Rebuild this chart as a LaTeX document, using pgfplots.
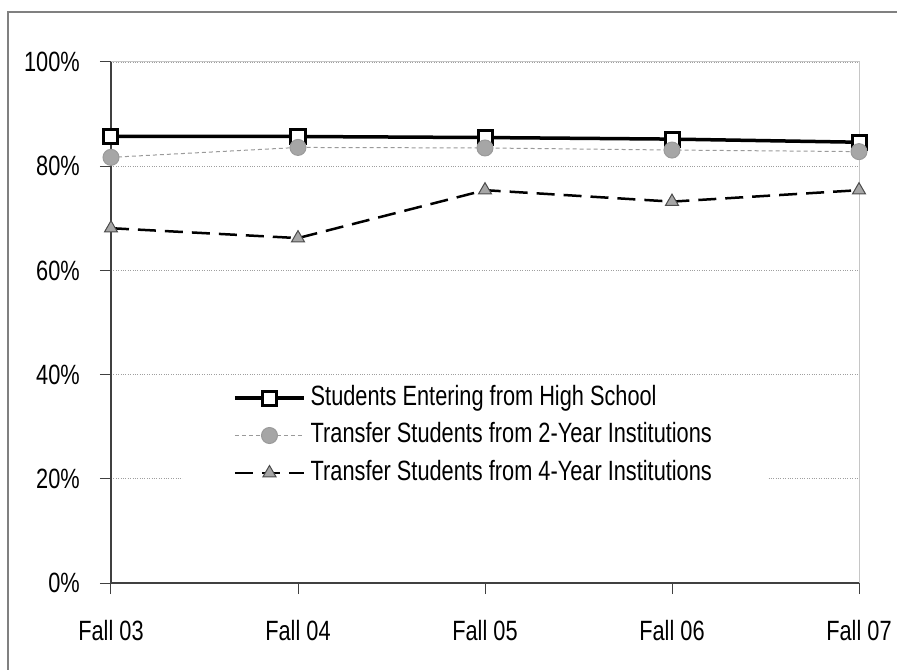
\documentclass[border=0pt]{standalone}
\usepackage{fontspec}
\setmainfont{Liberation Sans}[FakeStretch=0.78]
\usepackage{pgfplots}
\pgfplotsset{compat=1.18}
\definecolor{mkgray}{HTML}{A6A6A6}
\definecolor{lngray}{HTML}{9A9A9A}
\definecolor{axgray}{HTML}{404040}
\definecolor{frgray}{HTML}{808080}
\begin{document}
\fontsize{28}{32}\selectfont
\begin{tikzpicture}
\begin{axis}[
  scale only axis, width=748bp, height=521bp,
  xmin=0, xmax=4, ymin=0, ymax=100,
  xtick={0,1,2,3,4},
  xticklabels={Fall 03,Fall 04,Fall 05,Fall 06,Fall 07},
  ytick={0,20,40,60,80,100},
  yticklabels={0\%,20\%,40\%,60\%,80\%,100\%},
  axis lines=left,
  axis line style={-, draw=axgray, line width=1.3bp},
  tick align=outside, major tick length=11bp,
  tick style={draw=axgray, line width=1bp},
  ymajorgrids, grid style={dotted, gray!75, line width=0.8bp},
  clip=false,
  font=\fontsize{28}{32}\selectfont,
  yticklabel style={inner sep=0bp, xshift=-20bp},
  xticklabel style={inner sep=0bp, yshift=-26bp},
  legend cell align=left,
  legend style={at={(0.0963,0.39)}, anchor=north west, draw=none, fill=white,
    inner xsep=50bp, inner ysep=5bp, row sep=11.5bp,
    nodes={inner ysep=0bp, inner xsep=5bp, text height=20bp, text depth=6bp},
    font=\fontsize{28}{32}\selectfont},
  legend image code/.code={\draw[#1, mark repeat=2, mark phase=2] plot coordinates {(0bp,0bp) (34.5bp,0bp) (69bp,0bp)};},
]
\draw[gray!45, line width=1bp] (rel axis cs:0,1) -- (rel axis cs:1,1) -- (rel axis cs:1,0);
\addplot[black, line width=3.5bp, mark=square*, mark size=7bp,
  mark options={fill=white, draw=black, line width=3bp, solid}]
  coordinates {(0,85.7) (1,85.7) (2,85.5) (3,85.2) (4,84.6)};
\addlegendentry{Students Entering from High School}
\addplot[lngray, line width=1bp, dash pattern=on 4bp off 3bp, mark=*, mark size=8bp,
  mark options={fill=mkgray, draw=none, solid}]
  coordinates {(0,81.7) (1,83.6) (2,83.5) (3,83.1) (4,82.8)};
\addlegendentry{Transfer Students from 2-Year Institutions}
\addplot[black, line width=2.5bp, dash pattern=on 18bp off 9bp, mark=triangle*, mark size=7.5bp,
  mark options={fill=mkgray, draw=black!70, line width=1bp, solid}]
  coordinates {(0,68.1) (1,66.2) (2,75.4) (3,73.2) (4,75.4)};
\addlegendentry{Transfer Students from 4-Year Institutions}
\end{axis}
\draw[frgray, line width=2bp] (-103bp,-90bp) -- (-103bp,571bp) -- (790bp,571bp);
\pgfresetboundingbox
\useasboundingbox (-111bp,-87bp) rectangle (786bp,583bp);
\end{tikzpicture}
\end{document}
